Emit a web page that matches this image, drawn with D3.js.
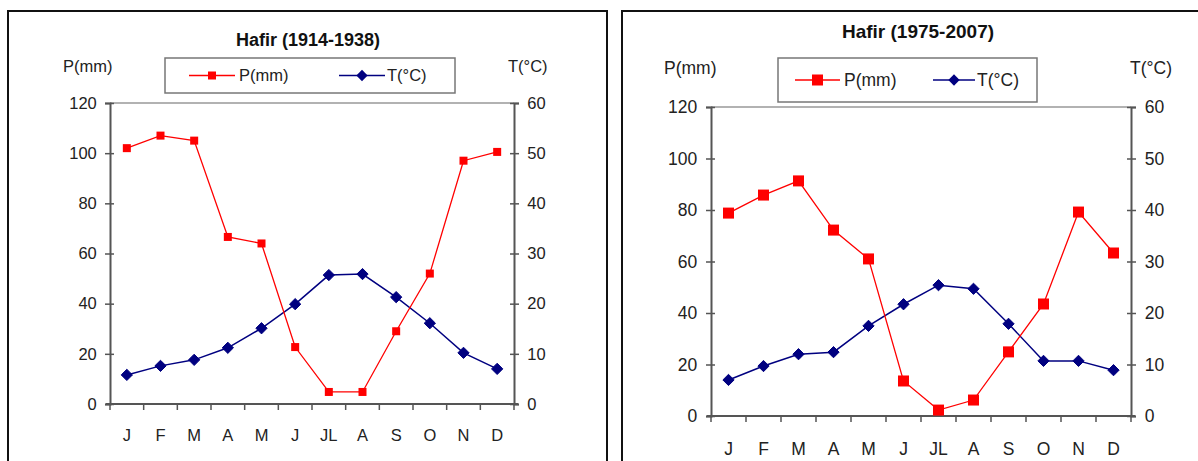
<!DOCTYPE html>
<html><head><meta charset="utf-8">
<script src="https://cdn.jsdelivr.net/npm/d3@7"></script>
<style>body{margin:0;background:#fff;}svg{display:block;font-family:"Liberation Sans",Arial,sans-serif;}</style>
</head><body>
<svg id="c" width="1198" height="461"></svg>
<script>
const months = ["J","F","M","A","M","J","JL","A","S","O","N","D"];
const titleA = "Hafir (1914-1938)";
const titleB = "Hafir (1975-2007)";
const precipA = [102, 107, 105, 66.6, 64, 22.7, 4.8, 4.8, 29, 52, 97, 100.5];
const tempA = [5.8, 7.6, 8.8, 11.2, 15.1, 19.9, 25.7, 25.9, 21.3, 16.1, 10.2, 7.0];
const precipB = [78.8, 85.8, 91.3, 72.2, 61, 13.6, 2.3, 6.2, 24.9, 43.5, 79.2, 63.3];
const tempB = [7.0, 9.7, 12.0, 12.4, 17.5, 21.7, 25.4, 24.7, 17.9, 10.7, 10.7, 8.9];
const pTicks = [0, 20, 40, 60, 80, 100, 120];
const tTicks = [0, 10, 20, 30, 40, 50, 60];
const pLabel = "P(mm)", tLabel = "T(°C)";

const svg = d3.select("#c");
const RED = "#ff0000", NAVY = "#000080", TXT = "#222";

function panel(o) {
  const g = svg.append("g");
  g.append("rect").attr("x", o.frame[0]).attr("y", o.frame[1]).attr("width", o.frame[2]).attr("height", o.frame[3])
    .attr("fill", "#fff").attr("stroke", "#111").attr("stroke-width", 2);
  const x = d3.scaleBand().domain(d3.range(12)).range([o.x0, o.x1]);
  const yP = d3.scaleLinear().domain([0, 120]).range([o.y0, o.y1]);
  const yT = d3.scaleLinear().domain([0, 60]).range([o.y0, o.y1]);
  g.append("line").attr("x1", o.x0).attr("x2", o.x1).attr("y1", o.y1).attr("y2", o.y1).attr("stroke", "#999").attr("stroke-width", 1.5);
  const ax = "#555";
  const la = g.append("g").attr("transform", `translate(${o.x0},0)`)
    .call(d3.axisLeft(yP).tickValues(pTicks).tickSize(5).tickPadding(o.fs * 0.5));
  const ra = g.append("g").attr("transform", `translate(${o.x1},0)`)
    .call(d3.axisRight(yT).tickValues(tTicks).tickSize(5).tickPadding(o.fs * 0.5));
  [la, ra].forEach(a => {
    a.select(".domain").attr("stroke", ax).attr("stroke-width", 2);
    a.selectAll(".tick line").attr("stroke", ax).attr("stroke-width", 1.5);
    a.selectAll("text").attr("font-size", o.fs).attr("fill", TXT).attr("font-family", "Liberation Sans, Arial, sans-serif");
  });
  la.selectAll(".tick line").attr("x1", 4);
  ra.selectAll(".tick line").attr("x1", -4);
  const bx = g.append("g").attr("transform", `translate(0,${o.y0})`);
  bx.append("line").attr("x1", o.x0 - 4).attr("x2", o.x1 + 4).attr("stroke", ax).attr("stroke-width", 2);
  bx.selectAll("line.t").data(d3.range(13)).join("line").attr("class", "t")
    .attr("x1", i => o.x0 + i * x.step()).attr("x2", i => o.x0 + i * x.step())
    .attr("y1", 0).attr("y2", 6).attr("stroke", ax).attr("stroke-width", 1.5);
  bx.selectAll("text").data(months).join("text")
    .attr("x", (d, i) => x(i) + x.bandwidth() / 2).attr("y", o.labY - o.y0)
    .attr("text-anchor", "middle").attr("font-size", o.fs).attr("fill", TXT).text(d => d);
  const cx = i => x(i) + x.bandwidth() / 2;
  g.append("path").datum(o.T).attr("fill", "none").attr("stroke", NAVY).attr("stroke-width", 1.5)
    .attr("d", d3.line().x((d, i) => cx(i)).y(d => yT(d)));
  g.selectAll("path.dm").data(o.T).join("path").attr("class", "dm")
    .attr("d", d3.symbol(d3.symbolDiamond2, o.dS * o.dS))
    .attr("transform", (d, i) => `translate(${cx(i)},${yT(d)})`).attr("fill", NAVY).attr("stroke", NAVY).attr("stroke-width", 1);
  g.append("path").datum(o.P).attr("fill", "none").attr("stroke", RED).attr("stroke-width", 1.3)
    .attr("d", d3.line().x((d, i) => cx(i)).y(d => yP(d)));
  g.selectAll("rect.sq").data(o.P).join("rect").attr("class", "sq")
    .attr("x", (d, i) => cx(i) - o.sS / 2).attr("y", d => yP(d) - o.sS / 2)
    .attr("width", o.sS).attr("height", o.sS).attr("fill", RED);
  g.append("text").attr("x", o.titleX).attr("y", o.titleY).attr("text-anchor", "middle")
    .attr("font-weight", "bold").attr("font-size", o.tfs).attr("fill", "#111").text(o.title);
  g.append("text").attr("x", o.pLabX).attr("y", o.axLabY).attr("font-size", o.fs).attr("fill", TXT).text(pLabel);
  g.append("text").attr("x", o.tLabX).attr("y", o.axLabY).attr("font-size", o.fs).attr("fill", TXT).text(tLabel);
  const L = o.leg;
  g.append("rect").attr("x", L.x).attr("y", L.y).attr("width", L.w).attr("height", L.h)
    .attr("fill", "#fff").attr("stroke", "#777").attr("stroke-width", 1.5);
  const ly = L.y + L.h / 2;
  g.append("line").attr("x1", L.p1).attr("x2", L.p2).attr("y1", ly).attr("y2", ly).attr("stroke", RED).attr("stroke-width", 1.5);
  g.append("rect").attr("x", (L.p1 + L.p2) / 2 - o.sS / 2).attr("y", ly - o.sS / 2).attr("width", o.sS).attr("height", o.sS).attr("fill", RED);
  g.append("text").attr("x", L.p2 + 4).attr("y", ly + o.fs * 0.36).attr("font-size", o.fs).attr("fill", TXT).text(pLabel);
  g.append("line").attr("x1", L.t1).attr("x2", L.t2).attr("y1", ly).attr("y2", ly).attr("stroke", NAVY).attr("stroke-width", 1.5);
  g.append("path").attr("d", d3.symbol(d3.symbolDiamond2, o.dS * o.dS)).attr("transform", `translate(${(L.t1 + L.t2) / 2},${ly})`).attr("fill", NAVY);
  g.append("text").attr("x", L.t2 + 2).attr("y", ly + o.fs * 0.36).attr("font-size", o.fs).attr("fill", TXT).text(tLabel);
}

panel({frame: [8, 11, 599, 470], x0: 110, x1: 514, y0: 404, y1: 103, fs: 16.5, tfs: 18, labY: 441,
  P: precipA, T: tempA, dS: 9, sS: 8, title: titleA, titleX: 308, titleY: 46,
  pLabX: 63, tLabX: 508, axLabY: 72,
  leg: {x: 165, y: 58, w: 290, h: 35, p1: 189, p2: 235, t1: 339, t2: 385}});
panel({frame: [622, 11, 590, 470], x0: 711, x1: 1131, y0: 416, y1: 107, fs: 17.5, tfs: 19, labY: 455,
  P: precipB, T: tempB, dS: 9, sS: 11, title: titleB, titleX: 918, titleY: 38,
  pLabX: 664, tLabX: 1130, axLabY: 74,
  leg: {x: 778, y: 58, w: 259, h: 44, p1: 795, p2: 840, t1: 933, t2: 975}});
</script>
</body></html>
